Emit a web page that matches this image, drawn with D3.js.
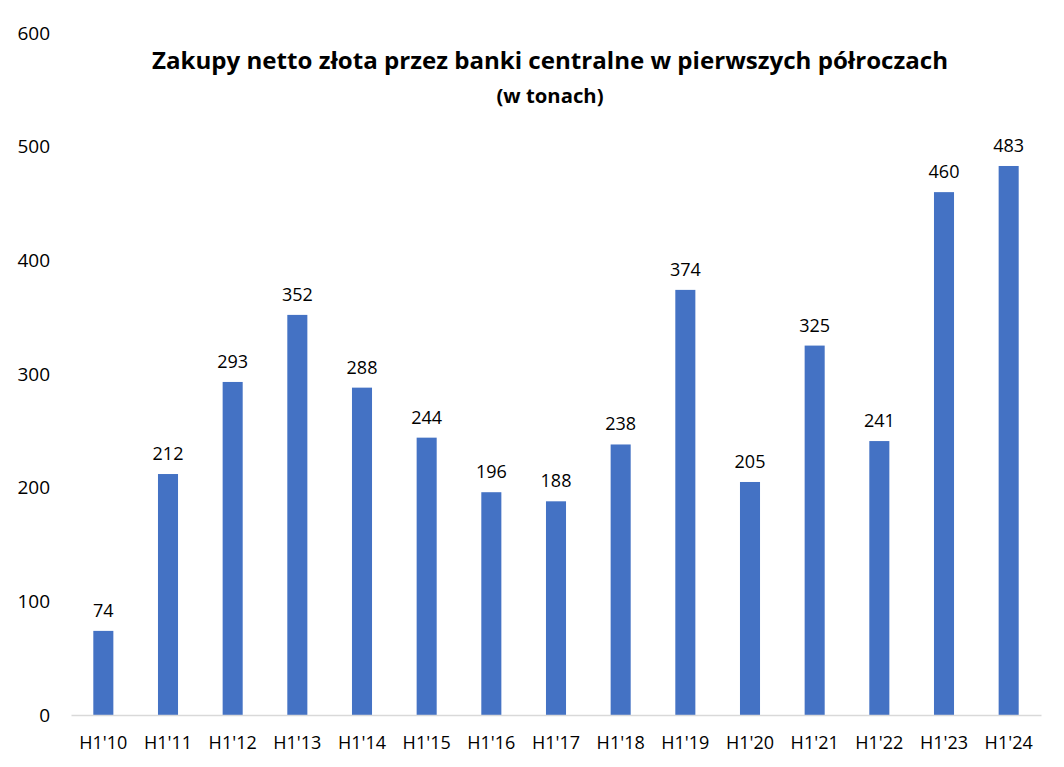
<!DOCTYPE html>
<html><head><meta charset="utf-8">
<script src="https://cdn.jsdelivr.net/npm/d3@7/dist/d3.min.js"></script>
<style>body{margin:0;background:#fff}svg{display:block}text{font-family:"Open Sans","Noto Sans",sans-serif}</style>
</head><body><svg id="c" width="1064" height="767"></svg>
<script>
const categories = ["H1'10","H1'11","H1'12","H1'13","H1'14","H1'15","H1'16","H1'17","H1'18","H1'19","H1'20","H1'21","H1'22","H1'23","H1'24"];
const values = [74,212,293,352,288,244,196,188,238,374,205,325,241,460,483];
const yTicks = [0,100,200,300,400,500,600];
const titleText = "Zakupy netto złota przez banki centralne w pierwszych półroczach";
const subtitleText = "(w tonach)";

const svg = d3.select("#c");
const x = d3.scaleBand().domain(categories).range([71, 1041]).paddingInner(0.69).paddingOuter(0.345);
const y = d3.scaleLinear().domain([0, 600]).range([715, 33]);

// y tick labels
svg.append("g").selectAll("text").data(yTicks).join("text")
  .attr("x", 50).attr("y", d => y(d)).attr("dy", "0.35em")
  .attr("text-anchor", "end").attr("font-size", 19).attr("fill", "#000")
  .text(d => d);

// bars
svg.append("g").selectAll("rect").data(values).join("rect")
  .attr("x", (d, i) => x(categories[i])).attr("width", x.bandwidth())
  .attr("y", d => y(d)).attr("height", d => y(0) - y(d))
  .attr("fill", "#4472C4");

// axis line
const xAxis = svg.append("g").attr("transform", `translate(0,${y(0)})`)
  .call(d3.axisBottom(x).tickSize(0).tickPadding(21));
xAxis.select(".domain").attr("stroke", "#D9D9D9").attr("stroke-width", 1.5);
xAxis.selectAll("text").attr("font-size", 18).attr("fill", "#000")
  .attr("font-family", '"Open Sans","Noto Sans",sans-serif');

// data labels
svg.append("g").selectAll("text").data(values).join("text")
  .attr("x", (d, i) => x(categories[i]) + x.bandwidth() / 2)
  .attr("y", d => y(d) - 14)
  .attr("text-anchor", "middle").attr("font-size", 18).attr("fill", "#000")
  .text(d => d);

// title
svg.append("text").attr("x", 550).attr("y", 69).attr("text-anchor", "middle")
  .attr("font-size", 23).attr("font-weight", "bold").attr("fill", "#000")
  .attr("textLength", 796).attr("lengthAdjust", "spacingAndGlyphs")
  .text(titleText);
svg.append("text").attr("x", 550).attr("y", 103).attr("text-anchor", "middle")
  .attr("font-size", 19).attr("font-weight", "bold").attr("fill", "#000")
  .attr("textLength", 107).attr("lengthAdjust", "spacingAndGlyphs")
  .text(subtitleText);
</script></body></html>
